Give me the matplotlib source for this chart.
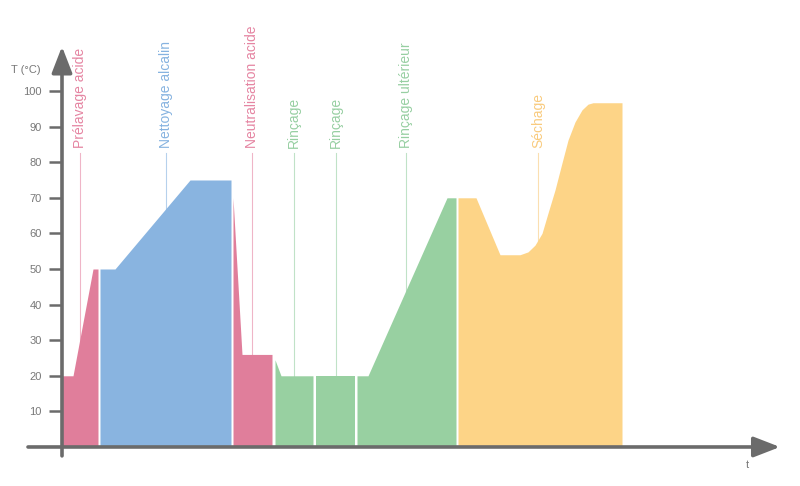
"""
Temperature profile of a CIP cycle (recreated chart)
"""
import matplotlib
matplotlib.use('Agg')
import matplotlib.pyplot as plt

plt.rcParams.update({
    'font.family': ['Liberation Sans', 'DejaVu Sans'],
    'font.size': 8,
})

PINK = '#E07E9B'
BLUE = '#89B4E0'
GREEN = '#98D0A1'
YELLOW = '#FDD487'
AXIS = '#6B6B6B'
TICKTXT = '#787878'

# ── Data ────────────────────────────────────────────────────
# each phase: time points (arbitrary units), temperature (°C)
prelavage_t = [0, 1.1, 3.1, 3.6]
prelavage_T = [20, 20, 50, 50]

nettoyage_t = [3.8, 5.3, 12.8, 16.9]
nettoyage_T = [50, 50, 75, 75]

neutral_t = [17.1, 18.0, 21.0]
neutral_T = [70, 26, 26]

rincage1_t = [21.3, 21.9, 25.1]
rincage1_T = [24.5, 20, 20]

rincage2_t = [25.4, 29.3]
rincage2_T = [20, 20]

rincage3_t = [29.5, 30.6, 38.5, 39.4]
rincage3_T = [20, 20, 70, 70]

sechage_t = [39.6, 41.4, 43.8, 45.8, 46.6, 47.3, 48.0, 48.6, 49.3, 50.0,
             50.6, 51.3, 52.0, 52.6, 53.1, 56.0]
sechage_T = [70, 70, 54, 54, 54.8, 56.7, 60, 65.7, 72.2, 79.8,
             86.2, 91.3, 94.7, 96.3, 96.7, 96.7]

phases = [
    (prelavage_t, prelavage_T, PINK),
    (nettoyage_t, nettoyage_T, BLUE),
    (neutral_t, neutral_T, PINK),
    (rincage1_t, rincage1_T, GREEN),
    (rincage2_t, rincage2_T, GREEN),
    (rincage3_t, rincage3_T, GREEN),
    (sechage_t, sechage_T, YELLOW),
]

label_names = ['Prélavage acide', 'Nettoyage alcalin', 'Neutralisation acide',
               'Rinçage', 'Rinçage', 'Rinçage ultérieur', 'Séchage']
label_t = [1.8, 10.4, 19.0, 23.2, 27.4, 34.4, 47.6]
label_colors = ['#E585A2', '#86B3E0', '#E585A2', '#97CFA2', '#97CFA2', '#97CFA2', '#F9CB7E']

yticks = [10, 20, 30, 40, 50, 60, 70, 80, 90, 100]

# ── Figure ──────────────────────────────────────────────────
fig = plt.figure(figsize=(8, 4.86), dpi=100)
ax = fig.add_axes([0, 0, 1, 1])
ax.set_xlim(-6.2, 73.8)
ax.set_ylim(-10.96, 125.56)

for t, T, c in phases:
    ax.fill_between(t, T, 0, color=c, linewidth=0, zorder=2)

# phase labels with thin leader lines
for name, t, c in zip(label_names, label_t, label_colors):
    ax.plot([t, t], [0, 82.6], color=c, linewidth=0.8, alpha=0.6, zorder=1)
    ax.text(t, 84, name, rotation=90, ha='center', va='bottom',
            color=c, fontsize=10)

# axes with arrows
arrow = dict(arrowstyle='-|>,head_length=1.6,head_width=0.62', color=AXIS,
             linewidth=2.6, shrinkA=0, shrinkB=0, mutation_scale=10)
ax.annotate('', xy=(71.8, 0), xytext=(-3.4, 0), arrowprops=arrow, zorder=4)
ax.annotate('', xy=(0, 112.5), xytext=(0, -2.5), arrowprops=arrow, zorder=4)

for s in ax.spines.values():
    s.set_color('none')
ax.spines['left'].set_position(('data', 0))
ax.set_xticks([])
ax.set_yticks(yticks)
ax.set_yticklabels([str(v) for v in yticks])
ax.tick_params(axis='y', direction='out', length=9.5, width=1.8, color=AXIS,
               pad=5, labelsize=8, labelcolor=TICKTXT)

ax.text(-2.1, 106, 'T (°C)', ha='right', va='center', fontsize=8, color=TICKTXT)
ax.text(68.5, -5.1, 't', ha='center', va='center', fontsize=8, color=TICKTXT)

fig.savefig('out.png', dpi=100)
plt.close()
